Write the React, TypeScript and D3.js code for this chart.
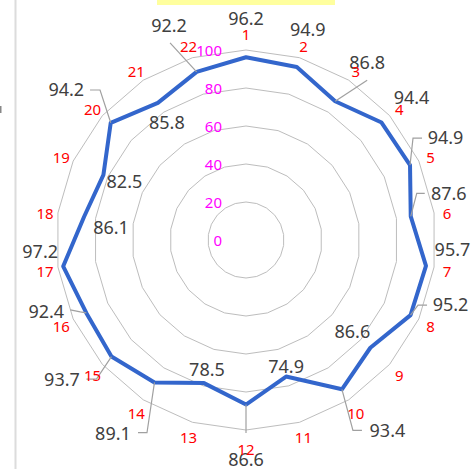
import React from "react";
import * as d3 from "d3";

const categories = ["1","2","3","4","5","6","7","8","9","10","11","12","13","14","15","16","17","18","19","20","21","22"];
const values = [96.2, 94.9, 86.8, 94.4, 94.9, 87.6, 95.7, 95.2, 86.6, 93.4, 74.9, 86.6, 78.5, 89.1, 93.7, 92.4, 97.2, 86.1, 82.5, 94.2, 85.8, 92.2];
const ticks = [0, 20, 40, 60, 80, 100];
const rings = [20, 40, 60, 80, 100];

// layout: data label offsets (relative to the point) and leader lines
const labelOffsets: [number, number][] = [
  [0, -39], [11, -37], [32, -39], [30, -24.5], [35.5, -27], [38, -23], [26.5, -16], [40, -10],
  [-18, -16], [45.5, 41], [0, -10], [0, 55], [3, -13], [-41.5, 51], [-49.5, 23.4], [-40, -1],
  [-23, -14.6], [27, 11], [21, 7], [-44.5, -32.8], [9, 20], [-27.6, -46],
];
const leaders: ([number, number][] | null)[] = [
  null, null, [[0, 0], [32, -21]], null, [[0, 0], [3, -27], [12, -27]], [[0, 0], [6, -23], [14, -23]],
  null, [[0, 0], [7.5, -10], [16.5, -10]], null, [[0, 0], [11, 41], [20, 41]], null, [[0, 0], [0, 28.5]],
  null, [[0, 0], [-7.5, 50.3], [-16.5, 50.3]], [[0, 0], [-15, 22.5], [-25, 22.5]], [[0, 0], [-6, -1], [-16, -3]],
  null, null, null, [[0, 0], [-10.7, -32.8], [-20.7, -32.8]], null, [[0, 0], [-26.6, -29]],
];

const W = 473, H = 469;
const cx = 246, cy = 240;
const FONT = "'Noto Sans', Roboto, sans-serif";

export default function App() {
  const r = d3.scaleLinear().domain([0, 100]).range([0, 190]);
  const n = categories.length;
  const angle = d3.scaleLinear().domain([0, n]).range([0, 2 * Math.PI]);
  const pt = (i: number, v: number): [number, number] => {
    const a = angle(i);
    return [cx + r(v) * Math.sin(a), cy - r(v) * Math.cos(a)];
  };
  const ringLine = d3.lineRadial<number>().angle((_, i) => angle(i)).curve(d3.curveLinearClosed);
  const dataLine = d3.lineRadial<number>().angle((_, i) => angle(i)).radius((d) => r(d)).curve(d3.curveLinearClosed);
  const leaderLine = d3.line();

  return (
    <svg width={W} height={H} style={{ position: "fixed", left: 0, top: 0, background: "#fff" }} fontFamily={FONT}>
      <rect x={0} y={0} width={W} height={H} fill="#fff" />
      <rect x={157} y={0} width={178} height={5} fill="#FFFF9E" />
      <line x1={15.5} x2={15.5} y1={0} y2={H} stroke="#dcdcdc" strokeWidth={2} />
      <rect x={0} y={106} width={1.5} height={7} fill="#888" />
      <g transform={`translate(${cx},${cy})`}>
        {rings.map((t) => (
          <path key={t} d={ringLine.radius(() => r(t))(categories.map(() => t)) || ""} fill="none" stroke="#bdbdbd" strokeWidth={1} />
        ))}
      </g>
      {ticks.map((t) => (
        <text key={t} x={cx - 24} y={cy - r(t) + 1} dy="0.35em" textAnchor="end" fill="#FF00FF" fontSize={15}>{t}</text>
      ))}
      <path transform={`translate(${cx},${cy})`} d={dataLine(values) || ""} fill="none" stroke="#3366CC" strokeWidth={4} strokeLinejoin="round" />
      {values.map((v, i) => {
        const L = leaders[i];
        if (!L) return null;
        const [px, py] = pt(i, v);
        return <path key={"l" + i} d={leaderLine(L.map(([dx, dy]) => [px + dx, py + dy]) as [number, number][]) || ""} fill="none" stroke="#a0a0a0" strokeWidth={1.2} />;
      })}
      {values.map((v, i) => {
        const [px, py] = pt(i, v);
        const [dx, dy] = labelOffsets[i];
        return (
          <text key={"v" + i} x={px + dx} y={py + dy} dy="0.35em" textAnchor="middle" fill="#404040" fontSize={18}>{v.toFixed(1)}</text>
        );
      })}
      {categories.map((c, i) => {
        const a = angle(i);
        const rr = 203 + 4.5 * Math.pow(Math.abs(Math.cos(a)), 40);
        return (
          <text key={"c" + i} x={cx + rr * Math.sin(a)} y={cy + 2.5 - rr * Math.cos(a)} dy="0.35em" textAnchor="middle" fill="#FF0000" fontSize={15}>{c}</text>
        );
      })}
    </svg>
  );
}
